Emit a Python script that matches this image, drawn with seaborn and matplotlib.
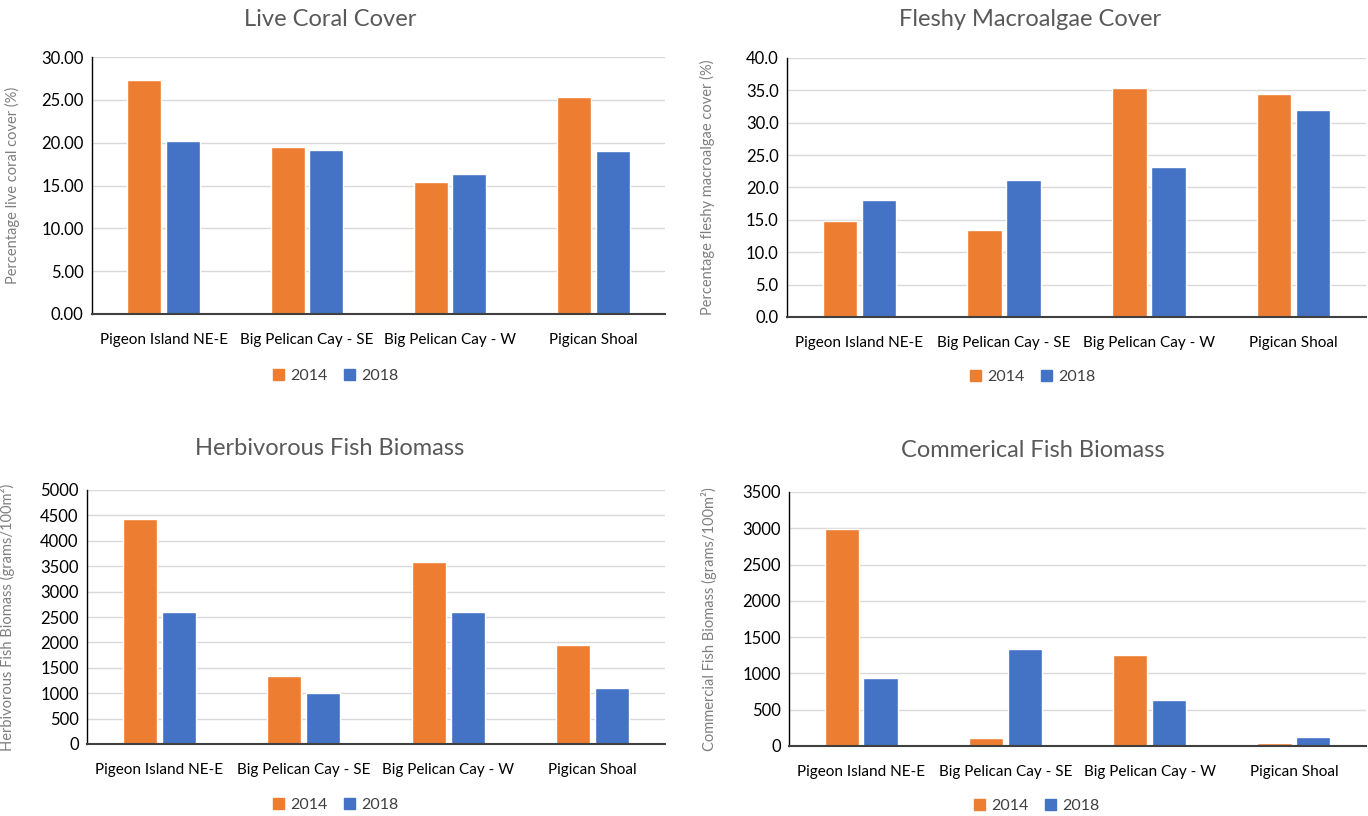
import pandas as pd
import matplotlib
matplotlib.use("Agg")
import matplotlib.pyplot as plt
import seaborn as sns
from matplotlib.ticker import FormatStrFormatter
from matplotlib.patches import Patch

# data
sites = ["Pigeon Island NE-E", "Big Pelican Cay - SE", "Big Pelican Cay - W", "Pigican Shoal"]
years = ["2014", "2018"]

coral_2014 = [27.3, 19.5, 15.4, 25.3]
coral_2018 = [20.2, 19.2, 16.4, 19.0]

algae_2014 = [14.8, 13.4, 35.4, 34.5]
algae_2018 = [18.1, 21.1, 23.1, 32.0]

herb_2014 = [4430, 1340, 3580, 1940]
herb_2018 = [2600, 1000, 2600, 1110]

comm_2014 = [2990, 110, 1260, 45]
comm_2018 = [940, 1340, 640, 125]

ORANGE = "#ED7D31"
BLUE = "#4472C4"

sns.set_style("white")
plt.rcParams['font.family'] = ['Lato', 'DejaVu Sans']


def long_df(v14, v18):
    rows = []
    for s, a, b in zip(sites, v14, v18):
        rows.append({"Site": s, "Year": "2014", "Value": a})
        rows.append({"Site": s, "Year": "2018", "Value": b})
    return pd.DataFrame(rows)


fig = plt.figure(figsize=(13.68, 8.16), dpi=100)
W, H = 1368, 816


def panel(rect_px, v14, v18, title, title_xy, ylabel, ymax, step, fmt, legend_xy):
    l, t, r, b = rect_px
    ax = fig.add_axes([l / W, 1 - b / H, (r - l) / W, (b - t) / H])
    df = long_df(v14, v18)
    sns.barplot(data=df, x="Site", y="Value", hue="Year", order=sites,
                hue_order=years, palette=[ORANGE, BLUE], width=0.54, gap=0.12,
                ax=ax, legend=False, saturation=1)
    ax.set_ylim(0, ymax)
    ax.set_yticks([i * step for i in range(int(round(ymax / step)) + 1)])
    ax.yaxis.set_major_formatter(FormatStrFormatter(fmt))
    ax.grid(axis="y", color="#D9D9D9", linewidth=1)
    ax.set_axisbelow(True)
    for sp in ["top", "right"]:
        ax.spines[sp].set_visible(False)
    ax.spines["left"].set_color("#000000")
    ax.spines["left"].set_linewidth(1)
    ax.spines["bottom"].set_color("#404040")
    ax.spines["bottom"].set_linewidth(1.5)
    ax.tick_params(axis="x", length=0, labelsize=11, colors="#000000", pad=14)
    ax.tick_params(axis="y", length=0, labelsize=12, colors="#000000", pad=6)
    ax.set_xlabel("")
    ax.set_ylabel(ylabel, color="#7F7F7F", fontsize=10.5)
    ax.yaxis.set_label_coords(-0.125, 0.5)
    fig.text(title_xy[0] / W, 1 - title_xy[1] / H, title, ha="center", va="center",
             fontsize=17, color="#595959")
    handles = [Patch(color=ORANGE, label="2014"), Patch(color=BLUE, label="2018")]
    fig.legend(handles=handles, loc="center", ncol=2, frameon=False,
               bbox_to_anchor=(legend_xy[0] / W, 1 - legend_xy[1] / H),
               fontsize=11.5, handlelength=0.7, handleheight=0.7,
               handletextpad=0.4, columnspacing=1.0, labelcolor="#404040")
    return ax


panel((92, 57, 665, 314), coral_2014, coral_2018, "Live Coral Cover", (330, 20),
      "Percentage live coral cover (%)", 30, 5, "%.2f", (336, 376))
panel((787, 58, 1366, 317), algae_2014, algae_2018, "Fleshy Macroalgae Cover", (1030, 20),
      "Percentage fleshy macroalgae cover (%)", 40, 5, "%.1f", (1033, 377))
panel((87, 490, 665, 744), herb_2014, herb_2018, "Herbivorous Fish Biomass", (330, 448),
      "Herbivorous Fish Biomass (grams/100m²)", 5000, 500, "%d", (336, 805))
panel((789, 492, 1366, 746), comm_2014, comm_2018, "Commerical Fish Biomass", (1033, 450),
      "Commercial Fish Biomass (grams/100m²)", 3500, 500, "%d", (1037, 806))

fig.savefig("out.png", dpi=100)
